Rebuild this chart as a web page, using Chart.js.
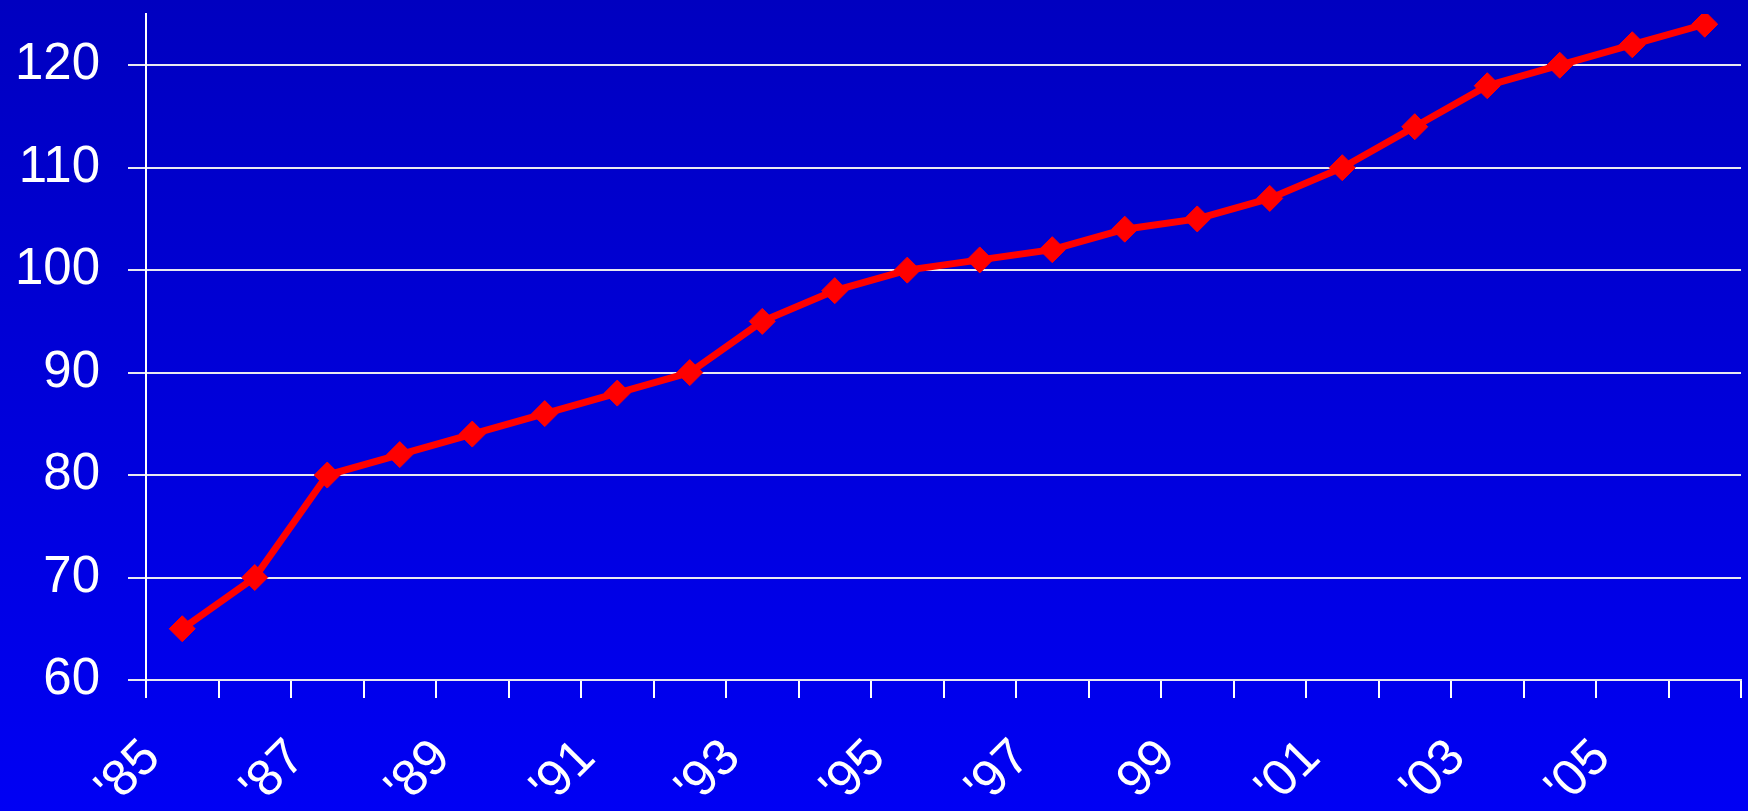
<!DOCTYPE html>
<html>
<head>
<meta charset="utf-8">
<script src="https://cdn.jsdelivr.net/npm/chart.js@4/dist/chart.umd.min.js"></script>
<style>
  html, body { margin: 0; padding: 0; }
  body {
    width: 1748px; height: 811px; overflow: hidden;
    background: linear-gradient(to bottom, #0000C0 0%, #0000F4 100%);
  }
  #wrap { position: relative; width: 1755px; height: 811px; }
</style>
</head>
<body>
<div id="wrap"><canvas id="chart"></canvas></div>
<script>
// Year categories along the x axis, as printed on the axis
const years = ["'85","'86","'87","'88","'89","'90","'91","'92","'93","'94","'95",
               "'96","'97","'98","99","'00","'01","'02","'03","'04","'05","'06"];

// Index value for each year
const values = [65, 70, 80, 82, 84, 86, 88, 90, 95, 98, 100,
                101, 102, 104, 105, 107, 110, 114, 118, 120, 122, 124];

// Labelled values on the vertical axis
const yTicks = [60, 70, 80, 90, 100, 110, 120];
const yMin = 60;
const yMax = 125;

const FONT = { family: "'Liberation Sans', Arial, sans-serif", size: 51 };

// Keep the plot area flush with the layout box (no extra room for edge labels)
function noEdgePadding(s) {
  s.paddingTop = 0; s.paddingBottom = 0; s.paddingLeft = 0; s.paddingRight = 0;
}

new Chart(document.getElementById('chart'), {
  type: 'line',
  data: {
    labels: years,
    datasets: [{
      data: values,
      borderColor: '#FF0000',
      backgroundColor: '#FF0000',
      borderWidth: 7,
      pointStyle: 'rectRot',
      pointRadius: 13,
      pointBorderWidth: 1,
      pointBackgroundColor: '#FF0000',
      pointBorderColor: '#FF0000',
      tension: 0,
      fill: false
    }]
  },
  options: {
    responsive: true,
    maintainAspectRatio: false,
    animation: false,
    layout: { padding: { top: 10, right: 1, left: 0, bottom: 0 } },
    plugins: { legend: { display: false }, tooltip: { enabled: false } },
    scales: {
      x: {
        offset: true,
        grid: {
          offset: true,
          drawOnChartArea: false,
          drawTicks: true,
          tickLength: 18,
          color: '#FFFFFF',
          lineWidth: 2
        },
        border: { display: true, color: '#E8E8F0', width: 2 },
        ticks: {
          autoSkip: false,
          minRotation: 45,
          maxRotation: 45,
          color: '#FFFFFF',
          font: FONT,
          padding: 30,
          labelOffset: -30,
          callback: function (v, i) { return i % 2 === 0 ? years[i] : ''; }
        },
        afterFit: function (s) { s.height = 131; noEdgePadding(s); }
      },
      y: {
        min: yMin,
        max: yMax,
        grid: {
          color: '#E8E8F0',
          lineWidth: 2,
          tickLength: 18
        },
        border: { display: true, color: '#FFFFFF', width: 2 },
        ticks: {
          color: '#FFFFFF',
          font: FONT,
          padding: 28
        },
        afterBuildTicks: function (s) {
          s.ticks = yTicks.map(v => ({ value: v }));
        },
        afterFit: function (s) { s.width = 146; noEdgePadding(s); }
      }
    }
  }
});
</script>
</body>
</html>
